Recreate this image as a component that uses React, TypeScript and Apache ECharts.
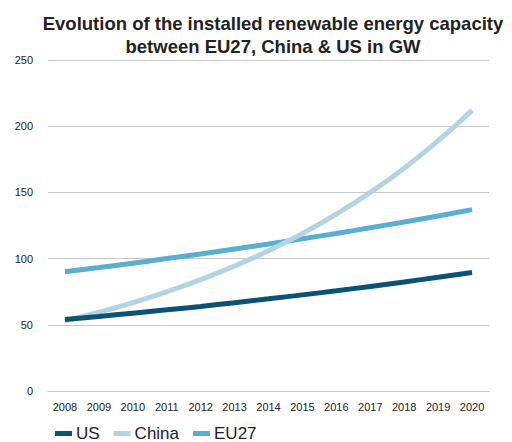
import React, { useEffect, useRef } from "react";
import * as echarts from "echarts";

const years = ["2008", "2009", "2010", "2011", "2012", "2013", "2014", "2015", "2016", "2017", "2018", "2019", "2020"];
const usValues = [54, 56.3, 58.8, 61.3, 63.9, 66.7, 69.6, 72.6, 75.7, 79, 82.4, 85.9, 89.5];
const chinaValues = [53, 59.5, 66.8, 75, 84.1, 94.4, 106, 119, 133.6, 150, 168.3, 189, 212];
const eu27Values = [90, 93.2, 96.5, 100, 103.5, 107.2, 111, 115, 119, 123.3, 127.7, 132.2, 137];

const seriesNames = ["US", "China", "EU27"];
const seriesColors = ["#0b5275", "#b4d4e4", "#5aaecf"];

export default function App() {
  const ref = useRef<HTMLDivElement>(null);
  useEffect(() => {
    if (!ref.current) return;
    const chart = echarts.init(ref.current, undefined, { renderer: "svg" });
    const font = "'Liberation Sans', Arial, Helvetica, sans-serif";
    const dataSets = [usValues, chinaValues, eu27Values];
    chart.setOption({
      animation: false,
      backgroundColor: "#ffffff",
      textStyle: { fontFamily: font },
      title: {
        text: "Evolution of the installed renewable energy capacity\nbetween EU27, China & US in GW",
        left: 268,
        top: 7,
        textAlign: "center",
        textStyle: { fontFamily: font, fontSize: 18.5, fontWeight: "bold", color: "#222", lineHeight: 23 },
      },
      legend: {
        left: 50,
        top: 420,
        icon: "rect",
        itemWidth: 17,
        itemHeight: 5,
        itemGap: 14,
        textStyle: { fontFamily: font, fontSize: 17, color: "#222", padding: [0, 0, 0, -1] },
        data: seriesNames,
      },
      grid: { left: 48, right: 23, top: 60, bottom: 51, containLabel: false },
      xAxis: {
        type: "category",
        data: years,
        boundaryGap: true,
        axisLine: { show: true, lineStyle: { color: "#c8c8c8", width: 1 } },
        axisTick: { show: false },
        axisLabel: { color: "#222", fontSize: 11, margin: 10, fontFamily: font, interval: 0 },
      },
      yAxis: {
        type: "value",
        min: 0,
        max: 250,
        interval: 50,
        axisLine: { show: false },
        axisTick: { show: false },
        splitLine: { lineStyle: { color: "#c8c8c8", width: 1 } },
        axisLabel: { color: "#222", fontSize: 11, margin: 15, fontFamily: font },
      },
      series: seriesNames.map((name, i) => ({
        name,
        type: "line",
        data: dataSets[i],
        smooth: true,
        showSymbol: false,
        symbol: "none",
        color: seriesColors[i],
        lineStyle: { width: 5, color: seriesColors[i], cap: "butt" },
        itemStyle: { color: seriesColors[i] },
        z: i === 0 ? 3 : i === 1 ? 2 : 1,
      })),
    });
    return () => chart.dispose();
  }, []);
  return <div ref={ref} style={{ width: 512, height: 442, position: "absolute", left: 0, top: 0 }} />;
}
